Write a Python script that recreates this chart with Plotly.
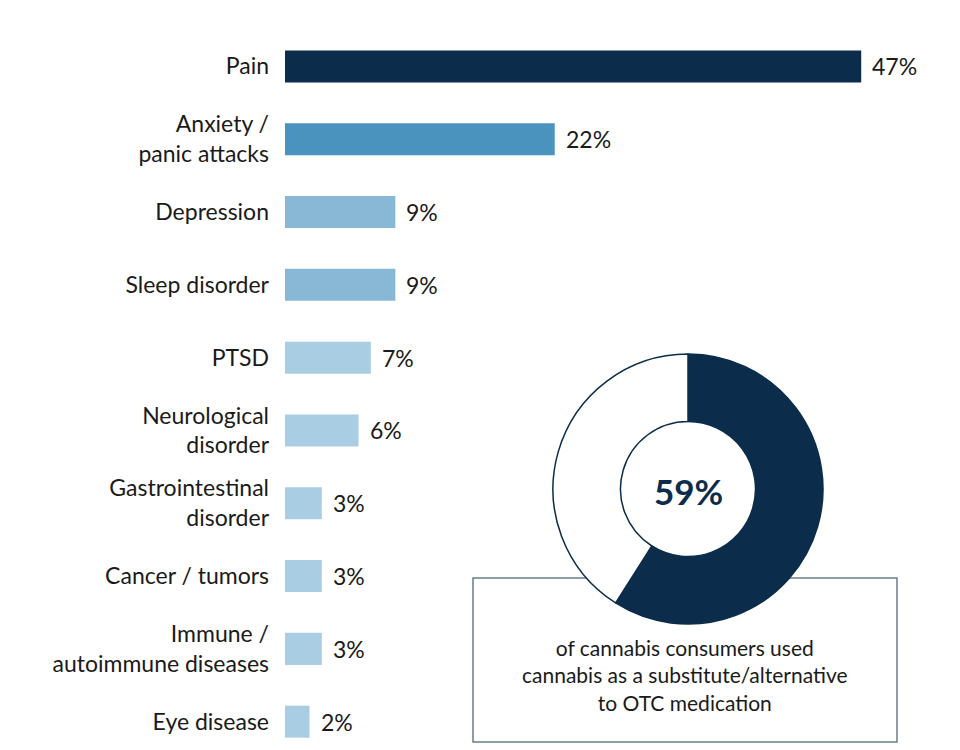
import plotly.graph_objects as go

categories = ["Pain", "Anxiety /<br>panic attacks", "Depression", "Sleep disorder", "PTSD",
              "Neurological<br>disorder", "Gastrointestinal<br>disorder", "Cancer / tumors",
              "Immune /<br>autoimmune diseases", "Eye disease"]
values = [47, 22, 9, 9, 7, 6, 3, 3, 3, 2]
value_labels = ["47%", "22%", "9%", "9%", "7%", "6%", "3%", "3%", "3%", "2%"]
bar_colors = ["#0b2d4b", "#4a93bf", "#88b8d5", "#88b8d5", "#a9cee3",
              "#a9cee3", "#a9cee3", "#a9cee3", "#a9cee3", "#a9cee3"]

donut_labels = ["Used as substitute", "Other"]
donut_values = [59, 41]
donut_center_text = "59%"
box_text = "of cannabis consumers used<br>cannabis as a substitute/alternative<br>to OTC medication"

NAVY = "#0b2d4b"
FONT = "Lato"

OFF = 8  # page body margin
W, H = 960 - OFF, 750 - OFF
L, R, T, B = 285 - OFF, 62, 30 - OFF, 5
pw, ph = W - L - R, H - T - B

def px_x(x):
    return (x - OFF - L) / pw

def px_y(y):
    return 1 - (y - OFF - T) / ph

fig = go.Figure()
fig.add_trace(go.Bar(
    x=values, y=categories, orientation="h",
    marker=dict(color=bar_colors, line=dict(width=0)),
    width=0.44, hoverinfo="skip", showlegend=False,
))

for cat, v, lab in zip(categories, values, value_labels):
    fig.add_annotation(x=v, y=cat, xref="x", yref="y", text=lab, showarrow=False,
                       xanchor="left", yanchor="middle", xshift=9,
                       font=dict(family=FONT, size=23, color="#1a1a1a"))

# donut
cx, cy, r = 688, 489, 135
fig.add_trace(go.Pie(
    labels=donut_labels, values=donut_values, hole=0.5, sort=False, direction="clockwise",
    rotation=0, textinfo="none", hoverinfo="skip", showlegend=False,
    marker=dict(colors=[NAVY, "#ffffff"], line=dict(color=NAVY, width=1.5)),
    domain=dict(x=[px_x(cx - r), px_x(cx + r)], y=[px_y(cy + r), px_y(cy - r)]),
))

fig.add_annotation(x=px_x(cx), y=px_y(cy + 2), xref="paper", yref="paper",
                   text="<b>" + donut_center_text + "</b>", xanchor="center", yanchor="middle",
                   showarrow=False, font=dict(family=FONT, size=35, color=NAVY))

# box
fig.add_shape(type="rect", xref="paper", yref="paper",
              x0=px_x(473), x1=px_x(897), y0=px_y(742), y1=px_y(578),
              line=dict(color="#6a7c88", width=1.5), fillcolor="rgba(0,0,0,0)", layer="below")

fig.add_annotation(x=px_x(685), y=px_y(675), xref="paper", yref="paper", text=box_text,
                   showarrow=False, xanchor="center", yanchor="middle", align="center",
                   font=dict(family=FONT, size=21, color="#1a1a1a"))

fig.update_layout(
    width=W, height=H, margin=dict(l=L, r=R, t=T, b=B),
    paper_bgcolor="white", plot_bgcolor="white",
    xaxis=dict(range=[0, 50], visible=False, fixedrange=True),
    yaxis=dict(range=[9.32, -0.5], showgrid=False, zeroline=False, showline=False, ticks="",
               ticklabelstandoff=15, tickfont=dict(family=FONT, size=23, color="#1a1a1a")),
    font=dict(family=FONT),
)

fig.write_html("out.html")
